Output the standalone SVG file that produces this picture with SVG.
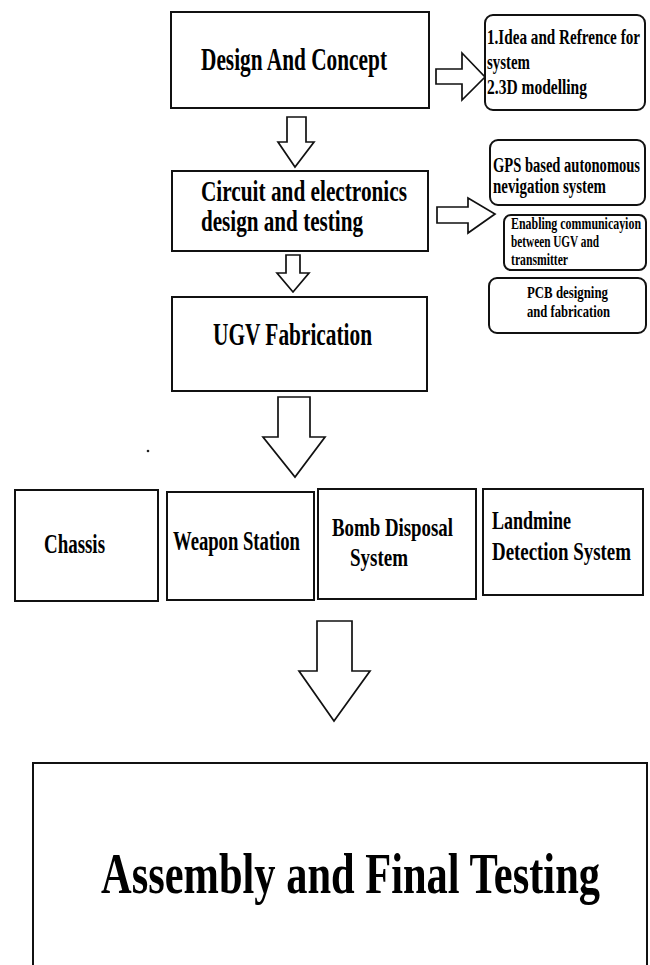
<svg xmlns="http://www.w3.org/2000/svg" width="650" height="965" viewBox="0 0 650 965">
<style>
  .box{fill:#fff;stroke:#111;stroke-width:2}
  .rbox{fill:#fff;stroke:#111;stroke-width:2}
  .arr{fill:#fff;stroke:#111;stroke-width:1.7;stroke-linejoin:miter}
  text{font-family:"Liberation Serif","Times New Roman",serif;font-weight:bold;fill:#000}
</style>
<rect width="650" height="965" fill="#fff"/>
<g id="connectors">
  <path class="arr" d="M436,69 H462 V53 L485,77 L462,100 V84 H436 Z"/>
  <path class="arr" d="M287,117 H306 V142 H314 L295,167 L278,142 H287 Z"/>
  <path class="arr" d="M437,207 H468 V198 L495,214 L468,233 V223 H437 Z"/>
  <path class="arr" d="M286,255 H300 V273 H309 L293,292 L277,273 H286 Z"/>
  <path class="arr" d="M278,397 H310 V437 H325 L295,477 L263,437 H278 Z"/>
  <path class="arr" d="M317,621 H352 V671 H370 L334,721 L299,671 H317 Z"/>
</g>
<circle cx="148" cy="451" r="1.3" fill="#222"/>
<g id="design">
  <rect class="box" x="171" y="12" width="258" height="96"/>
  <text x="201" y="70" font-size="32" textLength="186" lengthAdjust="spacingAndGlyphs">Design And Concept</text>
</g>
<g id="idea">
  <rect class="rbox" x="485" y="15" width="160" height="95" rx="8"/>
  <text x="487" y="44" font-size="21" textLength="153" lengthAdjust="spacingAndGlyphs">1.Idea and Refrence for</text>
  <text x="487" y="69" font-size="21" textLength="43" lengthAdjust="spacingAndGlyphs">system</text>
  <text x="487" y="94" font-size="21" textLength="100" lengthAdjust="spacingAndGlyphs">2.3D modelling</text>
</g>
<g id="circuit">
  <rect class="box" x="172" y="171" width="256" height="80"/>
  <text x="201" y="201" font-size="30" textLength="206" lengthAdjust="spacingAndGlyphs">Circuit and electronics</text>
  <text x="201" y="231" font-size="30" textLength="162" lengthAdjust="spacingAndGlyphs">design and testing</text>
</g>
<g id="gps">
  <rect class="rbox" x="490" y="140" width="155" height="65" rx="8"/>
  <text x="493" y="172" font-size="20" textLength="147" lengthAdjust="spacingAndGlyphs">GPS based autonomous</text>
  <text x="493" y="193" font-size="20" textLength="113" lengthAdjust="spacingAndGlyphs">nevigation system</text>
</g>
<g id="comm">
  <rect class="rbox" x="504" y="215" width="142" height="55" rx="7"/>
  <text x="511" y="229" font-size="16" textLength="130" lengthAdjust="spacingAndGlyphs">Enabling communicayion</text>
  <text x="511" y="247" font-size="16" textLength="88" lengthAdjust="spacingAndGlyphs">between UGV and</text>
  <text x="511" y="265" font-size="16" textLength="57" lengthAdjust="spacingAndGlyphs">transmitter</text>
</g>
<g id="pcb">
  <rect class="rbox" x="489" y="278" width="157" height="55" rx="8"/>
  <text x="527" y="298" font-size="17" textLength="81" lengthAdjust="spacingAndGlyphs">PCB designing</text>
  <text x="527" y="317" font-size="17" textLength="83" lengthAdjust="spacingAndGlyphs">and fabrication</text>
</g>
<g id="ugv">
  <rect class="box" x="172" y="297" width="255" height="94"/>
  <text x="213" y="345" font-size="31" textLength="159" lengthAdjust="spacingAndGlyphs">UGV Fabrication</text>
</g>
<g id="chassis">
  <rect class="box" x="15" y="490" width="143" height="111"/>
  <text x="44" y="553" font-size="27" textLength="61" lengthAdjust="spacingAndGlyphs">Chassis</text>
</g>
<g id="weapon">
  <rect class="box" x="167" y="492" width="147" height="108"/>
  <text x="173" y="550" font-size="27" textLength="127" lengthAdjust="spacingAndGlyphs">Weapon Station</text>
</g>
<g id="bomb">
  <rect class="box" x="318" y="489" width="158" height="110"/>
  <text x="332" y="536" font-size="26" textLength="121" lengthAdjust="spacingAndGlyphs">Bomb Disposal</text>
  <text x="350" y="566" font-size="26" textLength="58" lengthAdjust="spacingAndGlyphs">System</text>
</g>
<g id="landmine">
  <rect class="box" x="483" y="489" width="160" height="106"/>
  <text x="492" y="529" font-size="26" textLength="79" lengthAdjust="spacingAndGlyphs">Landmine</text>
  <text x="492" y="560" font-size="26" textLength="139" lengthAdjust="spacingAndGlyphs">Detection System</text>
</g>
<g id="assembly">
  <rect class="box" x="33" y="763" width="614" height="220"/>
  <text x="101" y="893" font-size="56" textLength="499" lengthAdjust="spacingAndGlyphs">Assembly and Final Testing</text>
</g>
</svg>
